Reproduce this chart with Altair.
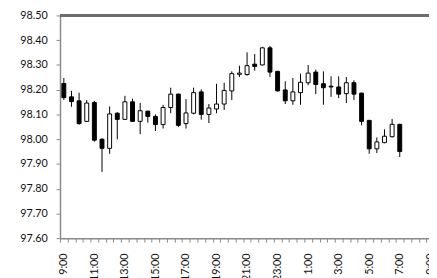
import altair as alt
import pandas as pd

# 30-minute candles, 9:00 through 7:00 next day (axis continues a little further)
time_labels = [
    "9:00", "9:30", "10:00", "10:30", "11:00", "11:30", "12:00", "12:30",
    "13:00", "13:30", "14:00", "14:30", "15:00", "15:30", "16:00", "16:30",
    "17:00", "17:30", "18:00", "18:30", "19:00", "19:30", "20:00", "20:30",
    "21:00", "21:30", "22:00", "22:30", "23:00", "23:30", "0:00", "0:30",
    "1:00", "1:30", "2:00", "2:30", "3:00", "3:30", "4:00", "4:30",
    "5:00", "5:30", "6:00", "6:30", "7:00", "7:30", "8:00", "8:30",
    "9:00", "9:30",
]

opens = [98.225, 98.171, 98.155, 98.072, 98.148, 98.000, 97.963, 98.105, 98.080, 98.151,
         98.072, 98.113, 98.092, 98.059, 98.128, 98.182, 98.063, 98.105, 98.191, 98.100,
         98.122, 98.142, 98.195, 98.262, 98.261, 98.303, 98.300, 98.369, 98.274, 98.199,
         98.155, 98.188, 98.228, 98.271, 98.224, 98.214, 98.211, 98.184, 98.228, 98.186,
         98.076, 97.961, 97.986, 98.010, 98.060]
highs = [98.247, 98.195, 98.188, 98.158, 98.155, 98.003, 98.132, 98.109, 98.175, 98.164,
         98.146, 98.115, 98.100, 98.139, 98.208, 98.184, 98.162, 98.208, 98.201, 98.142,
         98.224, 98.228, 98.274, 98.297, 98.351, 98.344, 98.373, 98.377, 98.276, 98.234,
         98.247, 98.265, 98.300, 98.281, 98.274, 98.254, 98.254, 98.251, 98.238, 98.188,
         98.078, 98.007, 98.040, 98.082, 98.062]
lows = [98.158, 98.131, 98.058, 98.070, 97.990, 97.868, 97.941, 97.999, 98.078, 98.070,
        98.020, 98.067, 98.033, 98.043, 98.105, 98.049, 98.043, 98.100, 98.079, 98.065,
        98.105, 98.118, 98.158, 98.251, 98.257, 98.277, 98.298, 98.251, 98.193, 98.142,
        98.139, 98.139, 98.218, 98.182, 98.139, 98.171, 98.166, 98.146, 98.158, 98.056,
        97.941, 97.944, 97.984, 98.007, 97.928]
closes = [98.168, 98.152, 98.063, 98.146, 97.996, 97.963, 98.102, 98.080, 98.151, 98.072,
          98.115, 98.092, 98.059, 98.128, 98.182, 98.056, 98.106, 98.188, 98.100, 98.126,
          98.142, 98.197, 98.265, 98.267, 98.297, 98.294, 98.369, 98.271, 98.195, 98.155,
          98.191, 98.230, 98.267, 98.221, 98.208, 98.211, 98.182, 98.228, 98.182, 98.072,
          97.961, 97.989, 98.012, 98.060, 97.950]

y_ticks = [97.6, 97.7, 97.8, 97.9, 98.0, 98.1, 98.2, 98.3, 98.4, 98.5]

n = len(opens)
df = pd.DataFrame({
    "idx": list(range(n)),
    "time": time_labels[:n],
    "open": opens,
    "high": highs,
    "low": lows,
    "close": closes,
})

plot_w = 376
x_max = 47.83
unit = plot_w / (x_max + 0.5)

label_js = "[" + ",".join("'%s'" % (t if i % 4 == 0 else "") for i, t in enumerate(time_labels)) + "]"
x_tick_vals = [i - 0.5 for i in range(len(time_labels) + 1) if i - 0.5 <= x_max]

font = "Lato"
axis_gray = "#8a8a8a"

x_scale = alt.Scale(domain=[-0.5, x_max], nice=False, zero=False, padding=0)
x_axis = alt.Axis(
    title=None,
    values=x_tick_vals,
    labelExpr=label_js + "[datum.value + 0.5] || ''",
    labelOffset=unit / 2,
    labelAngle=-90,
    labelAlign="right",
    labelBaseline="middle",
    labelFont=font,
    labelFontSize=11,
    labelColor="#111111",
    labelPadding=11,
    labelOverlap=False,
    labelBound=False,
    labelFlush=False,
    tickSize=4,
    tickColor=axis_gray,
    domainColor=axis_gray,
    domainWidth=1.5,
    grid=False,
)

y_scale = alt.Scale(domain=[97.6, 98.5], nice=False, zero=False, padding=0)
y_axis = alt.Axis(
    title=None,
    values=y_ticks,
    format=".2f",
    labelFont=font,
    labelFontSize=11,
    labelColor="#111111",
    labelPadding=9,
    labelOverlap=False,
    labelBound=False,
    labelFlush=False,
    tickSize=4,
    tickColor=axis_gray,
    domainColor=axis_gray,
    domainWidth=1.5,
    grid=False,
)

base = alt.Chart(df)

wicks = base.mark_rule(color="black", strokeWidth=1).encode(
    x=alt.X("idx:Q", scale=x_scale, axis=x_axis),
    y=alt.Y("low:Q", scale=y_scale, axis=y_axis),
    y2="high:Q",
)

bodies = base.mark_bar(width=4, stroke="black", strokeWidth=1).encode(
    x=alt.X("idx:Q", scale=x_scale, axis=x_axis),
    y=alt.Y("open:Q", scale=y_scale, axis=y_axis),
    y2="close:Q",
    fill=alt.condition(alt.datum.open > alt.datum.close, alt.value("black"), alt.value("white")),
)

top_line = base.mark_rule(color="#6e6e6e", strokeWidth=1.5).encode(
    y=alt.YDatum(98.5, scale=y_scale, axis=y_axis),
)

chart = (
    alt.layer(wicks, bodies, top_line)
    .properties(
        width=plot_w,
        height=227,
        autosize=alt.AutoSizeParams(type="none"),
        padding={"left": 53, "top": 5, "right": 0, "bottom": 38},
    )
    .configure_axis(labelOverlap=False)
    .configure_view(stroke=None)
)

chart.save("out.html", embed_options={"renderer": "svg", "actions": False})
